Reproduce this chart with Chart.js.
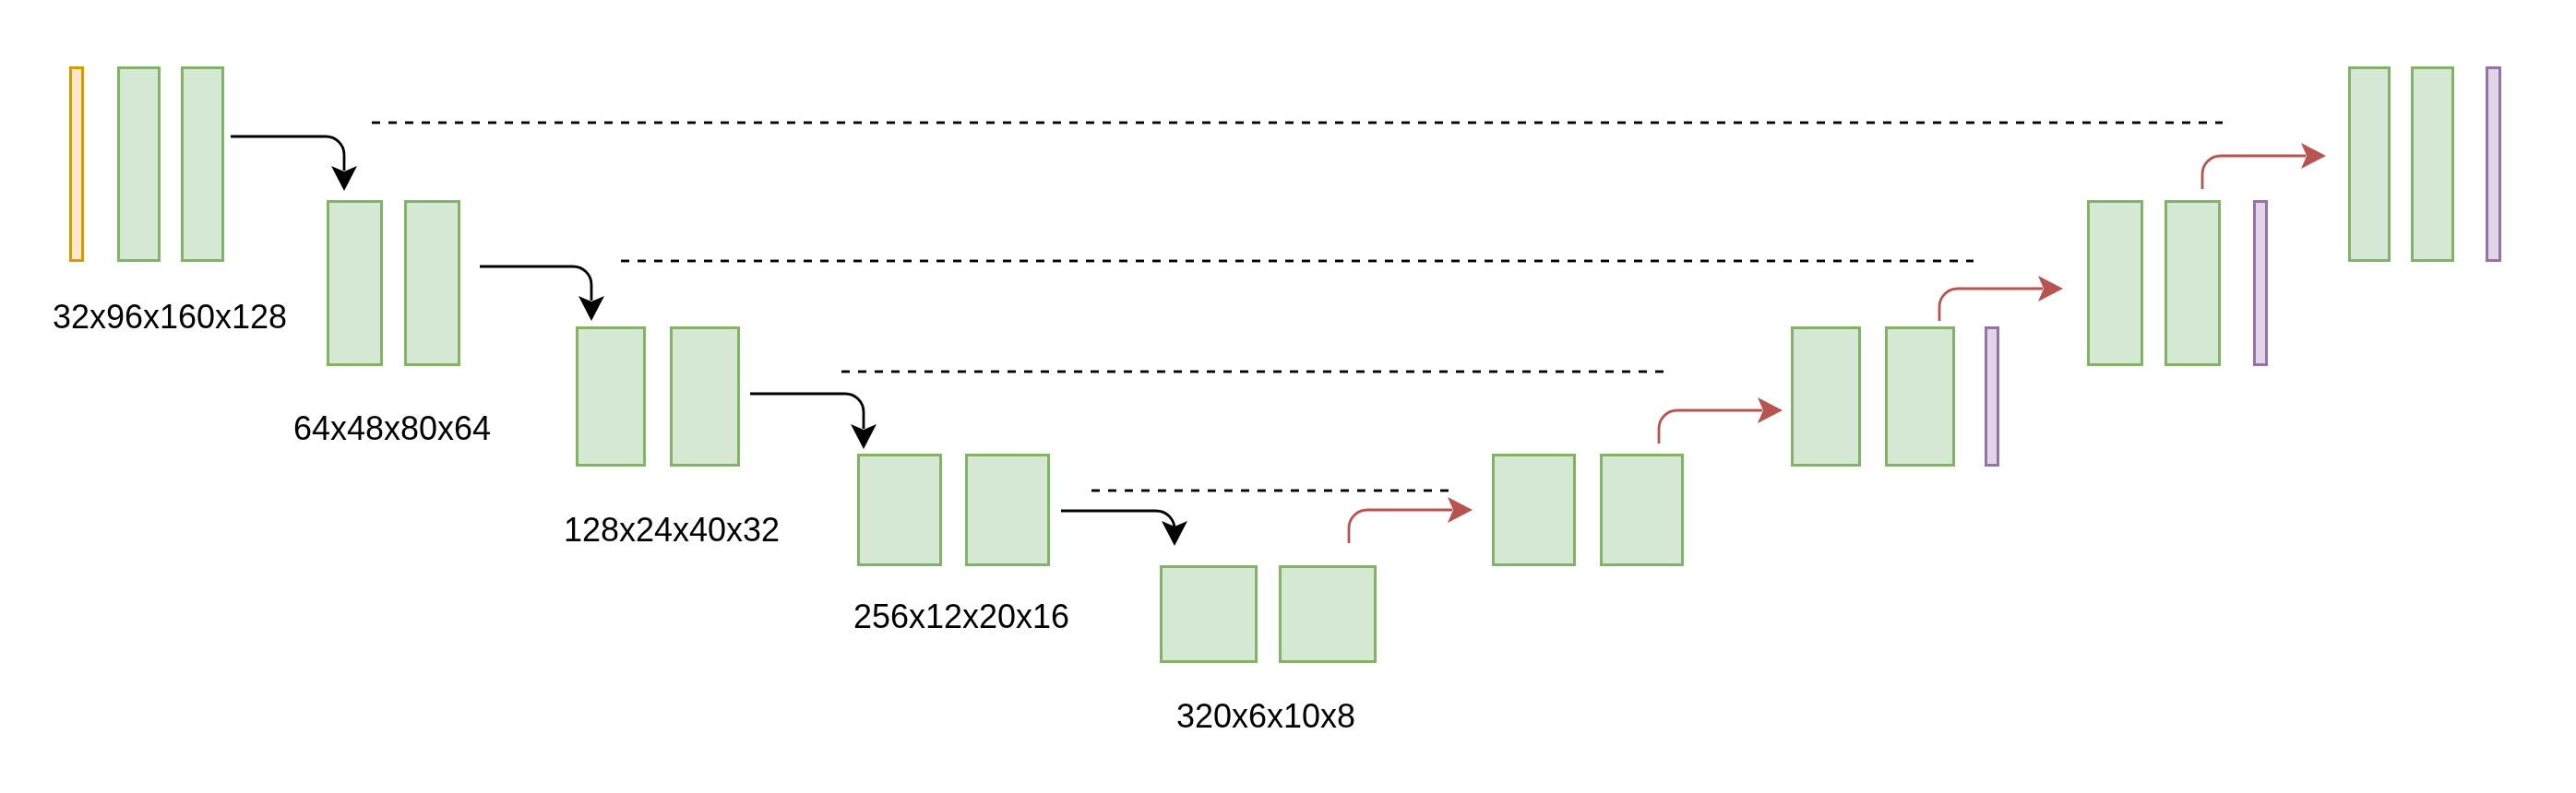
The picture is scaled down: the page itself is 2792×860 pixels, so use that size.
<!DOCTYPE html>
<html>
<head>
<meta charset="utf-8">
<title>U-Net</title>
<script src="https://cdn.jsdelivr.net/npm/chart.js@4"></script>
<style>
html,body{margin:0;padding:0;background:#fff;}
#wrap{position:relative;width:2792px;height:860px;}
</style>
</head>
<body>
<div id="wrap"><canvas id="unet"></canvas></div>
<script>

// ================= DATA (diagram units) =================
// blocks: left, right, top, bottom, kind
const blockLeft   = [75,127,196, 354,438, 624,726, 929,1046, 1257,1386, 1617,1734, 1941,2043,2151, 2262,2346,2442, 2545,2613,2694];
const blockRight  = [91,174,243, 415,499, 700,802, 1021,1138, 1363,1492, 1708,1825, 2017,2119,2167, 2323,2407,2458, 2591,2660,2711];
const blockTop    = [72,72,72, 217,217, 354,354, 492,492, 613,613, 492,492, 354,354,354, 217,217,217, 72,72,72];
const blockBottom = [284,284,284, 397,397, 506,506, 614,614, 719,719, 614,614, 506,506,506, 397,397,397, 284,284,284];
const blockKind   = ["in","conv","conv", "conv","conv", "conv","conv", "conv","conv", "conv","conv", "conv","conv", "conv","conv","out", "conv","conv","out", "conv","conv","out"];

// labels under encoder levels
const labelText = ["32x96x160x128","64x48x80x64","128x24x40x32","256x12x20x16","320x6x10x8"];
const labelX    = [184,425,728,1042,1372];
const labelY    = [356,477,587,681,789];

// skip connections (dashed)
const skipY     = [133,283,403,532];
const skipStart = [403,673,912,1183];
const skipEnd   = [2409,2139,1804,1570];

// downsampling arrows (black): start x, y, drop x, tip y
const downX0   = [250,520,813,1150];
const downY    = [148,289,427,554];
const downX1   = [373,641,936,1273];
const downTip  = [207,348,487,592];

// upsampling arrows (red): x, start y, run y, tip x
const upX      = [1462,1798,2102,2387];
const upY0     = [589,481,348,205];
const upY      = [553,445,313,169];
const upTip    = [1596,1932,2236,2521];

const colors = {
conv:{fill:"#d5e8d4",stroke:"#82b366"},
in:{fill:"#ffe6cc",stroke:"#d79b00"},
out:{fill:"#e1d5e7",stroke:"#9673a6"}
};


// ================= DASHED DATASETS =================
let skipSets = skipY.map((y,i)=>({
type:"scatter",
data:[{x:skipStart[i],y:y},{x:skipEnd[i],y:y}],
showLine:true,
borderColor:"#000",
borderWidth:2.8,
borderDash:[9,9],
borderCapStyle:"butt",
pointRadius:0,
fill:false
}));


// ================= HELPERS =================
function arrowHead(ctx, tx, ty, dx, dy, color){
// classic head: length 27, half width 14, notch 6
let L=27, W=14, N=6;
let px=-dy, py=dx;
ctx.beginPath();
ctx.moveTo(tx,ty);
ctx.lineTo(tx-dx*L+px*W, ty-dy*L+py*W);
ctx.lineTo(tx-dx*(L-N), ty-dy*(L-N));
ctx.lineTo(tx-dx*L-px*W, ty-dy*L-py*W);
ctx.closePath();
ctx.fillStyle=color;
ctx.fill();
}


// ================= PLUGIN =================
const unetPlugin = {
id:"unet",
beforeDatasetsDraw(chart){
let ctx=chart.ctx, sx=chart.scales.x, sy=chart.scales.y;
ctx.save();
blockLeft.forEach((l,i)=>{
let x0=sx.getPixelForValue(l), x1=sx.getPixelForValue(blockRight[i]);
let y0=sy.getPixelForValue(blockTop[i]), y1=sy.getPixelForValue(blockBottom[i]);
let c=colors[blockKind[i]];
let lw=3;
ctx.fillStyle=c.fill;
ctx.fillRect(x0,y0,x1-x0,y1-y0);
ctx.strokeStyle=c.stroke;
ctx.lineWidth=lw;
ctx.strokeRect(x0+lw/2,y0+lw/2,x1-x0-lw,y1-y0-lw);
});
ctx.restore();
},
afterDatasetsDraw(chart){
let ctx=chart.ctx, sx=chart.scales.x, sy=chart.scales.y;
let r=20;
ctx.save();
ctx.lineWidth=2.8;
ctx.lineJoin="round";

// down arrows
downX0.forEach((x0,i)=>{
let a=sx.getPixelForValue(x0), b=sx.getPixelForValue(downX1[i]);
let y=sy.getPixelForValue(downY[i]), t=sy.getPixelForValue(downTip[i]);
ctx.beginPath();
ctx.moveTo(a,y);
ctx.arcTo(b,y,b,y+r,r);
ctx.lineTo(b,Math.max(t-22,y+r));
ctx.strokeStyle="#000";
ctx.stroke();
arrowHead(ctx,b,t,0,1,"#000");
});

// up arrows
upX.forEach((x,i)=>{
let a=sx.getPixelForValue(x), y0=sy.getPixelForValue(upY0[i]);
let y=sy.getPixelForValue(upY[i]), t=sx.getPixelForValue(upTip[i]);
ctx.beginPath();
ctx.moveTo(a,y0);
ctx.arcTo(a,y,a+r,y,r);
ctx.lineTo(t-22,y);
ctx.strokeStyle="#b85450";
ctx.stroke();
arrowHead(ctx,t,y,1,0,"#b85450");
});

// labels
ctx.fillStyle="#000";
ctx.font="36px 'Liberation Sans', Arial, Helvetica, sans-serif";
ctx.textAlign="center";
ctx.textBaseline="alphabetic";
labelText.forEach((txt,i)=>{
ctx.fillText(txt, sx.getPixelForValue(labelX[i]), sy.getPixelForValue(labelY[i]));
});
ctx.restore();
}
};


// ================= CHART =================
new Chart(document.getElementById("unet"),{
type:"scatter",
data:{datasets:skipSets},
options:{
responsive:true,
maintainAspectRatio:false,
animation:false,
layout:{padding:0},
plugins:{legend:{display:false},tooltip:{enabled:false}},
scales:{
x:{type:"linear",min:0,max:2792,display:false},
y:{type:"linear",min:0,max:860,reverse:true,display:false}
}
},
plugins:[unetPlugin]
});
</script>
</body>
</html>
